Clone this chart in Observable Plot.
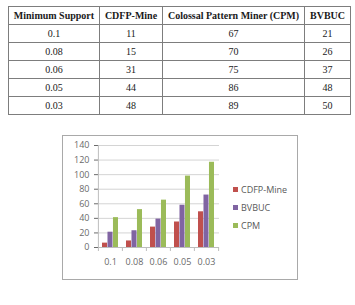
<!DOCTYPE html>
<html>
<head>
<meta charset="utf-8">
<script src="https://cdn.jsdelivr.net/npm/d3@7"></script>
<script src="https://cdn.jsdelivr.net/npm/@observablehq/plot@0.6"></script>
<style>
  html, body { margin: 0; padding: 0; background: #fff; }
  body { position: relative; width: 355px; height: 305px; overflow: hidden; }
  #results {
    position: absolute; left: 8px; top: 6px; width: 342px;
    border-collapse: collapse; table-layout: fixed;
    font-family: "Liberation Serif", "Times New Roman", serif; font-size: 10px; color: #1a1a1a;
  }
  #results th, #results td {
    border: 1px solid #7d7d7d; text-align: center; padding: 0; height: 17px; line-height: 17px;
  }
  #results th { font-weight: bold; }
  #chart-box {
    position: absolute; left: 62px; top: 135px; width: 236px; height: 145px;
    box-sizing: border-box; border: 1px solid #a9a9a9; background: #fff;
  }
  #chart-box svg { position: absolute; left: 0; top: 0; }
  #legend { position: absolute; left: 170px; top: 47px; font-family: "Open Sans", sans-serif; font-size: 9px; color: #595959; }
  #legend .item { position: relative; height: 18px; line-height: 14px; white-space: nowrap; }
  #legend .swatch { display: inline-block; width: 5px; height: 5px; margin-right: 3px; vertical-align: 1px; }
</style>
</head>
<body>
<table id="results"></table>
<div id="chart-box"><div id="legend"></div></div>
<script>
// Table: runtime per minimum support threshold
const tableHeaders = ["Minimum Support", "CDFP-Mine", "Colossal Pattern Miner (CPM)", "BVBUC"];
const supportLevels = ["0.1", "0.08", "0.06", "0.05", "0.03"];
const tableCdfp = [11, 15, 31, 44, 48];
const tableCpm = [67, 70, 75, 86, 89];
const tableBvbuc = [21, 26, 37, 48, 50];

// Bar chart series
const seriesNames = ["CDFP-Mine", "BVBUC", "CPM"];
const seriesColors = ["#c0504d", "#8064a2", "#9bbb59"];
const chartCdfp = [6, 9, 28, 35, 49];
const chartBvbuc = [21, 23, 39, 58, 72];
const chartCpm = [41, 52, 65, 98, 117];
const yTicks = [0, 20, 40, 60, 80, 100, 120, 140];

// ---- table ----
const colWidths = [91, 63, 142, 46];
const table = document.getElementById("results");
const colgroup = document.createElement("colgroup");
colWidths.forEach(w => { const c = document.createElement("col"); c.style.width = w + "px"; colgroup.appendChild(c); });
table.appendChild(colgroup);
const headRow = table.insertRow();
tableHeaders.forEach(h => { const th = document.createElement("th"); th.textContent = h; headRow.appendChild(th); });
supportLevels.forEach((s, i) => {
  const r = table.insertRow();
  [s, tableCdfp[i], tableCpm[i], tableBvbuc[i]].forEach(v => { r.insertCell().textContent = v; });
});

// ---- chart ----
const seriesValues = [chartCdfp, chartBvbuc, chartCpm];
const width = 234, height = 143;
const marginLeft = 35, marginRight = 78, marginTop = 9, marginBottom = 32;
const padInner = 0.32, padOuter = 0.16;
const step = (width - marginLeft - marginRight) / (supportLevels.length - padInner + 2 * padOuter);
const barWidth = step * (1 - padInner) / seriesNames.length;
const yMax = yTicks[yTicks.length - 1];
const tickDepth = -4 * yMax / (height - marginTop - marginBottom); // 4px below the baseline

const bars = seriesNames.map((name, k) =>
  Plot.barY(supportLevels, {
    x: d => d,
    y: (d, i) => seriesValues[k][i],
    fill: seriesColors[k],
    insetLeft: k * barWidth,
    insetRight: (seriesNames.length - 1 - k) * barWidth
  })
);

const chart = Plot.plot({
  width, height, marginLeft, marginRight, marginTop, marginBottom,
  style: { fontFamily: "'Open Sans', sans-serif", fontSize: "9px", color: "#6a6a6a", background: "transparent" },
  x: { domain: supportLevels, paddingInner: padInner, paddingOuter: padOuter, tickSize: 0, tickPadding: 11, label: null },
  y: { domain: [0, yMax], ticks: yTicks, tickSize: 4, tickPadding: 5, label: null },
  marks: [
    Plot.ruleY(yTicks, { stroke: "#d4d4d4" }),
    // vertical axis line
    Plot.ruleX([supportLevels[0]], { dx: -step / 2, y1: tickDepth, y2: yMax, stroke: "#bdbdbd" }),
    // category boundary ticks
    Plot.ruleX(supportLevels.slice(1), { dx: -step / 2, y1: tickDepth, y2: 0, stroke: "#bdbdbd" }),
    Plot.ruleX(supportLevels.slice(-1), { dx: step / 2, y1: tickDepth, y2: 0, stroke: "#bdbdbd" }),
    Plot.ruleY([0], { stroke: "#bdbdbd" }),
    ...bars
  ]
});
const box = document.getElementById("chart-box");
box.insertBefore(chart, box.firstChild);

// legend
const legend = document.getElementById("legend");
seriesNames.forEach((name, k) => {
  const item = document.createElement("div");
  item.className = "item";
  const sw = document.createElement("span");
  sw.className = "swatch";
  sw.style.background = seriesColors[k];
  item.appendChild(sw);
  item.appendChild(document.createTextNode(name));
  legend.appendChild(item);
});
</script>
</body>
</html>
